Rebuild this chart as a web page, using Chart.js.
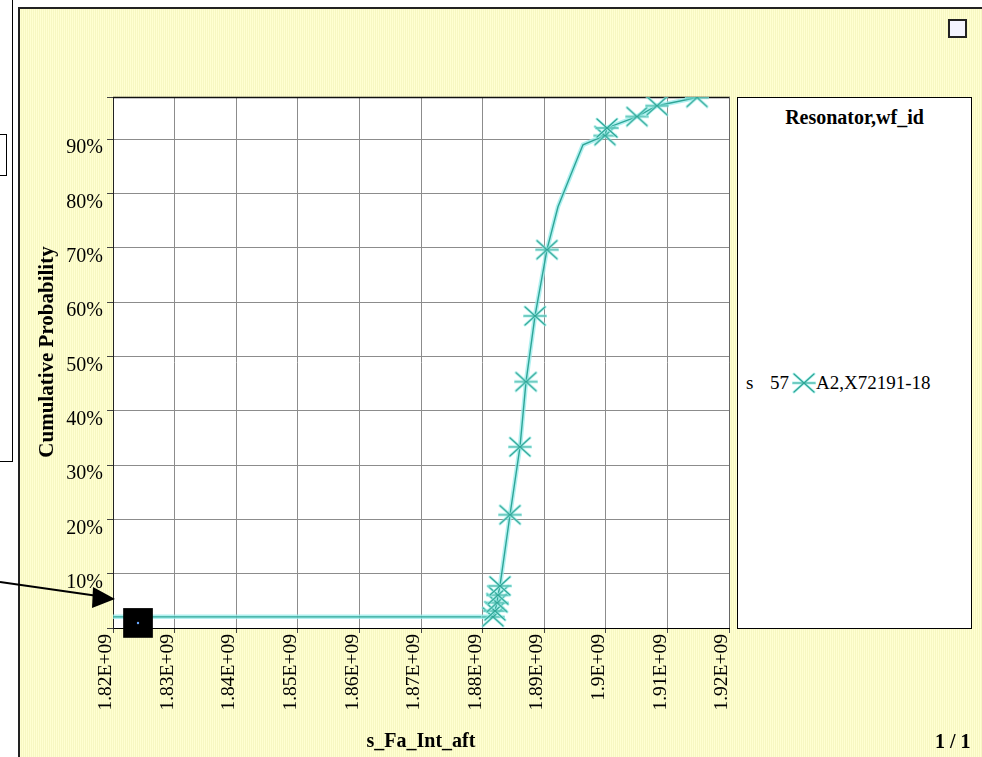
<!DOCTYPE html>
<html>
<head>
<meta charset="utf-8">
<script src="https://cdn.jsdelivr.net/npm/chart.js@4/dist/chart.umd.min.js"></script>
<style>
  html, body { margin:0; padding:0; width:982px; height:757px; overflow:hidden; background:#fff; }
  body { position:relative; font-family:'Liberation Serif','Times New Roman',serif; color:#000; }
  .abs { position:absolute; }
  #panel { left:18px; top:7px; width:964px; height:750px; border-left:2px solid #222; border-top:2px solid #222;
    background: repeating-linear-gradient(90deg, #ffffd2 0px, #ffffd2 1px, #f7f7c2 1px, #f7f7c2 2px); }
  #chk { left:948px; top:19px; width:15px; height:15px; border:2px solid #222; background:#f4f4ff; }
  #legend { left:737px; top:97px; width:233px; height:530px; border:1px solid #000; background:#fff; }
  #legTitle { left:0; top:8px; width:233px; text-align:center; font-weight:bold; font-size:20px; }
  #legRow { left:0; top:272px; width:233px; height:26px; font-size:19px; line-height:26px; white-space:nowrap; }
  #pageNo { left:935px; top:730px; font-weight:bold; font-size:20px; }
</style>
</head>
<body>
<div class="abs" style="left:12px;top:0;width:1px;height:462px;background:#000"></div>
<div class="abs" style="left:0;top:461px;width:13px;height:1px;background:#000"></div>
<div class="abs" style="left:0;top:134px;width:6px;height:40px;border:1px solid #000;border-left:none;background:#fff"></div>
<div id="panel" class="abs"></div>
<div id="chk" class="abs"></div>
<div id="legend" class="abs">
  <div id="legTitle" class="abs"></div>
  <div id="legRow" class="abs"></div>
</div>
<canvas id="c" class="abs" width="982" height="757" style="left:0;top:0"></canvas>
<svg class="abs" style="left:0;top:0" width="982" height="757">
  <line x1="0" y1="582" x2="98" y2="596" stroke="#000" stroke-width="2.2"/>
  <polygon points="115,599 93,587 92,608" fill="#000"/>
</svg>
<div id="pageNo" class="abs">1 / 1</div>
<script>
// ---------------- data ----------------
const xTickLabels = ['1.82E+09','1.83E+09','1.84E+09','1.85E+09','1.86E+09','1.87E+09','1.88E+09','1.89E+09','1.9E+09','1.91E+09','1.92E+09'];
const yTickLabels = ['10%','20%','30%','40%','50%','60%','70%','80%','90%'];
// marked samples (x = s_Fa_Int_aft, y = cumulative probability %)
const sampleX = [1.88169e9, 1.88201e9, 1.88234e9, 1.88250e9, 1.88282e9, 1.88445e9, 1.88607e9, 1.88705e9, 1.88851e9, 1.89045e9, 1.89987e9, 1.90019e9, 1.90506e9, 1.90831e9, 1.91481e9];
const sampleY = [3.2, 4.3, 5.8, 7.2, 8.9, 22.0, 34.5, 46.5, 58.6, 70.8, 91.8, 93.2, 95.3, 97.3, 98.8];
// unmarked vertices of the cumulative curve
const curveX = [1.82e9, 1.89224e9, 1.89419e9, 1.89532e9, 1.89630e9];
const curveY = [3.2, 78.7, 84.2, 87.4, 90.1];
// highlighted point (black square annotation)
const highlightX = [1.82406e9];
const highlightY = [2.08];
const legendTitle = 'Resonator,wf_id';
const seriesLabel = 'A2,X72191-18';
const seriesPrefix = ['s', '57'];
const xAxisTitle = 's_Fa_Int_aft';
const yAxisTitle = 'Cumulative Probability';

// ---------------- build ----------------
const X_MIN = 1.82e9, X_MAX = 1.92e9, X_STEP = 1e7;
const Y_MIN = 1.15, Y_MAX = 98.9;
const TEAL = '#2ea596';

function makeMarker() {
  const cv = document.createElement('canvas');
  cv.width = 24; cv.height = 22;
  const g = cv.getContext('2d');
  const segs = [[2,2,22,20],[2,20,22,2],[1,11,23,11]];
  g.lineCap = 'round';
  g.strokeStyle = 'rgba(160,240,235,0.8)'; g.lineWidth = 3;
  segs.forEach(s => { g.beginPath(); g.moveTo(s[0],s[1]); g.lineTo(s[2],s[3]); g.stroke(); });
  g.strokeStyle = TEAL; g.lineWidth = 1.2;
  segs.forEach(s => { g.beginPath(); g.moveTo(s[0],s[1]); g.lineTo(s[2],s[3]); g.stroke(); });
  return cv;
}
const marker = makeMarker();

const samples = sampleX.map((x, i) => ({x, y: sampleY[i]}));
const curve = samples.concat(curveX.map((x, i) => ({x, y: curveY[i]})))
  .sort((a, b) => (a.y - b.y) || (a.x - b.x));
const highlight = highlightX.map((x, i) => ({x, y: highlightY[i]}));

// legend (HTML)
document.getElementById('legTitle').textContent = legendTitle;
const row = document.getElementById('legRow');
row.innerHTML = '';
const s1 = document.createElement('span'); s1.textContent = seriesPrefix[0];
s1.style.cssText = 'position:absolute;left:8px;';
const s2 = document.createElement('span'); s2.textContent = seriesPrefix[1];
s2.style.cssText = 'position:absolute;left:32px;';
const mk = makeMarker(); mk.style.cssText = 'position:absolute;left:54px;top:2px;';
const s3 = document.createElement('span'); s3.textContent = seriesLabel;
s3.style.cssText = 'position:absolute;left:78px;';
row.append(s1, s2, mk, s3);

Chart.defaults.font.family = "'Liberation Serif','Times New Roman',serif";
Chart.defaults.color = '#000';

const framePlugin = {
  id: 'frame',
  beforeDraw(c) {
    const {ctx, chartArea: a} = c;
    ctx.save();
    ctx.fillStyle = '#fff';
    ctx.fillRect(a.left, a.top, a.right - a.left, a.bottom - a.top);
    ctx.restore();
  },
  beforeDatasetsDraw(c) {
    const {ctx, chartArea: a} = c;
    ctx.save();
    ctx.strokeStyle = '#111'; ctx.lineWidth = 1.5;
    ctx.beginPath(); ctx.moveTo(a.left, a.top + 0.5); ctx.lineTo(a.right + 1, a.top + 0.5); ctx.stroke();
    ctx.strokeStyle = '#666'; ctx.lineWidth = 1;
    ctx.beginPath(); ctx.moveTo(a.right + 0.5, a.top); ctx.lineTo(a.right + 0.5, a.bottom); ctx.stroke();
    ctx.restore();
  }
};

new Chart(document.getElementById('c'), {
  type: 'scatter',
  data: {
    datasets: [
      { label: 'halo', data: curve, showLine: true, borderColor: 'rgba(150,235,235,0.75)', borderWidth: 4.5, pointRadius: 0, order: 4 },
      { label: seriesLabel, data: curve, showLine: true, borderColor: TEAL, borderWidth: 1.4, pointRadius: 0, order: 3 },
      { label: 'samples', data: samples, showLine: false, pointStyle: marker, pointRadius: 10, order: 2 },
      { label: 'highlight', data: highlight, showLine: false, pointStyle: 'rect', pointRadius: 21,
        backgroundColor: '#000', borderColor: '#000', borderWidth: 0, clip: false, order: 1 },
      { label: 'highlightDot', data: highlight, showLine: false, pointStyle: 'circle', pointRadius: 1.2,
        backgroundColor: '#6aa8ff', borderWidth: 0, clip: false, order: 0 }
    ]
  },
  options: {
    responsive: false,
    animation: false,
    events: [],
    layout: { padding: { left: 35.4, top: 97, right: 253, bottom: 3 } },
    plugins: { legend: { display: false }, tooltip: { enabled: false } },
    scales: {
      x: {
        type: 'linear', min: X_MIN, max: X_MAX, bounds: 'data',
        afterFit: s => { s.height = 126; },
        ticks: {
          stepSize: X_STEP, autoSkip: false, minRotation: 90, maxRotation: 90,
          labelOffset: -7, padding: 1, font: { size: 19.5 }, color: '#000',
          callback: v => xTickLabels[Math.round((v - X_MIN) / X_STEP)] ?? ''
        },
        grid: { color: '#8c8c8c', tickColor: '#444', tickLength: 5 },
        border: { color: '#000', width: 1 },
        title: { display: true, text: xAxisTitle, font: { size: 20, weight: 'bold' }, padding: 0, color: '#000' }
      },
      y: {
        type: 'linear', min: Y_MIN, max: Y_MAX, bounds: 'data',
        afterFit: s => { s.width = 77.6; },
        ticks: {
          stepSize: 10, includeBounds: false, labelOffset: 9, padding: 4, font: { size: 20 }, color: '#000',
          callback: v => yTickLabels[Math.round(v / 10) - 1] ?? ''
        },
        grid: { color: '#8c8c8c', tickColor: '#444', tickLength: 6 },
        border: { color: '#222', width: 1 },
        title: { display: true, text: '\u00a0\u00a0\u00a0\u00a0' + yAxisTitle, font: { size: 21, weight: 'bold' }, padding: 0, color: '#000' }
      }
    }
  },
  plugins: [framePlugin]
});
</script>
</body>
</html>
